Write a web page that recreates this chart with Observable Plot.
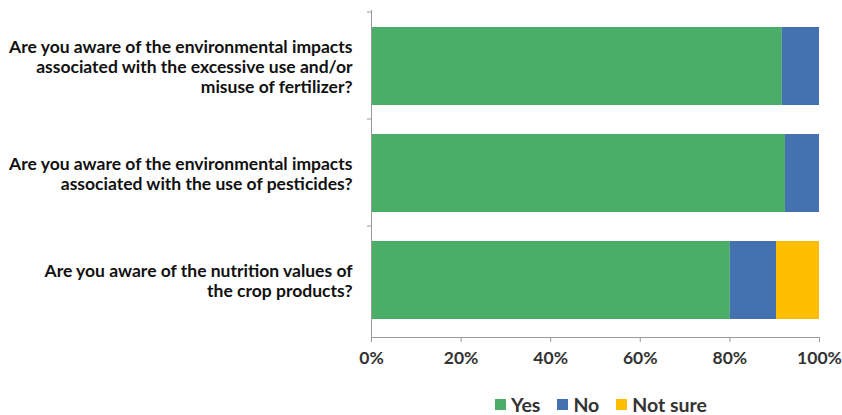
<!DOCTYPE html>
<html>
<head>
<meta charset="utf-8">
<script src="https://cdn.jsdelivr.net/npm/d3@7"></script>
<script src="https://cdn.jsdelivr.net/npm/@observablehq/plot@0.6"></script>
<style>
  body { margin: 0; background: #fff; font-family: Lato, sans-serif; }
  #chart svg { display: block; }
  .legend { display: flex; justify-content: center; align-items: center; gap: 17px;
            margin-left: 371px; margin-right: 11px; height: 42px; font-size: 19.5px; font-weight: 700; color: #333; }
  .legend .item { display: flex; align-items: center; gap: 5px; }
  .legend .sw { width: 11px; height: 11px; display: inline-block; }
</style>
</head>
<body>
<div id="chart"></div>
<div class="legend" id="legend"></div>
<script>
// Survey questions (top to bottom)
const questions = [
  "Are you aware of the environmental impacts\nassociated with the excessive use and/or\nmisuse of fertilizer?",
  "Are you aware of the environmental impacts\nassociated with the use of pesticides?",
  "Are you aware of the nutrition values of\nthe crop products?"
];
// Response categories and share of answers (%)
const responses = ["Yes", "No", "Not sure"];
const yesShare = [91.7, 92.4, 80.1];
const noShare = [8.3, 7.6, 10.3];
const notSureShare = [0, 0, 9.6];
const xTicks = [0, 20, 40, 60, 80, 100];
const colors = ["#4aae69", "#4472b0", "#ffbf00"];

const rows = [];
questions.forEach((q, i) => {
  rows.push({question: q, response: "Yes", value: yesShare[i]});
  rows.push({question: q, response: "No", value: noShare[i]});
  rows.push({question: q, response: "Not sure", value: notSureShare[i]});
});

const height = 383, marginTop = 10, marginBottom = 46;
const step = (height - marginTop - marginBottom) / questions.length;

const chart = Plot.plot({
  width: 842,
  height,
  marginTop,
  marginBottom,
  marginLeft: 371,
  marginRight: 23,
  style: {fontFamily: "Lato, sans-serif", fontSize: "16px", fontWeight: 700, color: "#222"},
  x: {domain: [0, 100], ticks: xTicks, tickFormat: d => d + "%", label: null},
  y: {domain: questions, paddingInner: 0.27, paddingOuter: 0.15, label: null},
  color: {domain: responses, range: colors},
  marks: [
    Plot.barX(rows, Plot.stackX({x: "value", y: "question", fill: "response", order: responses})),
    Plot.axisX({ticks: xTicks, tickFormat: d => d + "%", tickSize: 5, tickPadding: 9, stroke: "#9a9a9a", fill: "#333", fontSize: 17.5}),
    Plot.axisY({tickSize: 0, tickPadding: 19, fill: "#111", fontSize: 17.5, lineHeight: 1.14}),
    // category boundaries on the vertical axis
    Plot.ruleY(questions, {y: d => d, dy: -step / 2, x1: 0, x2: 0, insetLeft: -4, stroke: "#9a9a9a"}),
    Plot.frame({anchor: "left", stroke: "#9a9a9a"}),
    Plot.frame({anchor: "bottom", stroke: "#9a9a9a"})
  ]
});
document.getElementById("chart").append(chart);

const legend = document.getElementById("legend");
responses.forEach((r, i) => {
  const item = document.createElement("span");
  item.className = "item";
  item.innerHTML = `<span class="sw" style="background:${colors[i]}"></span><span>${r}</span>`;
  legend.append(item);
});
</script>
</body>
</html>
